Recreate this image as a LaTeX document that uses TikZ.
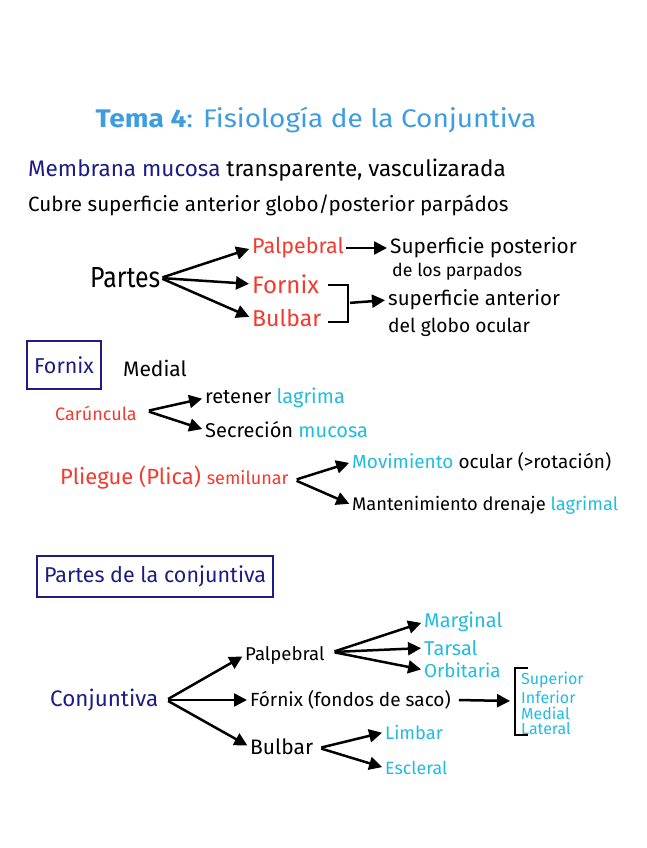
\documentclass[tikz,border=0pt]{standalone}
\usepackage{fontspec}
\setmainfont{Fira Sans}
\newfontfamily\titlefont{Fira Sans}[FakeStretch=1.1]
\newfontfamily\cfont{Fira Sans}[FakeStretch=0.86]
\usetikzlibrary{arrows.meta,calc}
\definecolor{navy}{HTML}{1C1C84}
\definecolor{hred}{HTML}{F23B2E}
\definecolor{hcyan}{HTML}{22BCE0}
\definecolor{tblue}{HTML}{3D9DE0}
\newcommand{\fs}[1]{\fontsize{#1}{#1}\selectfont}
\tikzset{
  arr/.style={line width=2.5pt,-{Triangle[length=13pt,width=13pt]},shorten >=3pt,shorten <=2pt},
  brk/.style={line width=2.5pt},
  tx/.style={inner sep=0pt,anchor=west},
  boxn/.style={draw=navy,line width=2pt,text=navy,inner sep=0pt},
}
\begin{document}
\begin{tikzpicture}[x=1pt,y=-1pt]
\useasboundingbox (0,0) rectangle (646,848);
% title
\node[inner sep=0pt,text=tblue,font=\titlefont\fs{25.5}] (title) at (316,120) {\textbf{Tema 4}: Fisiología de la Conjuntiva};
\node[tx,font=\fs{22.5}] (l1) at (28,170) {\textcolor{navy}{Membrana mucosa} transparente, vasculizarada};
\node[tx,font=\fs{20.6}] (l2) at (28,205) {Cubre superficie anterior globo/posterior parpádos};
% Partes
\node[tx,font=\cfont\fs{29}] (partes) at (90,278) {Partes};
\node[tx,font=\fs{21.5},text=hred] (pa) at (252,248) {Palpebral};
\node[tx,font=\fs{24},text=hred] (fa) at (252,284) {Fornix};
\node[tx,font=\fs{23},text=hred] (ba) at (252,318) {Bulbar};
\draw[arr] (partes.east) -- (pa.west);
\draw[arr] (partes.east) -- (fa.west);
\draw[arr] (partes.east) -- (ba.west);
\node[tx,font=\fs{20.8}] (sp1) at (390,248) {Superficie posterior};
\node[tx,font=\fs{17.8}] (sp2) at (392,272) {de los parpados};
\draw[arr] (pa.east) -- (sp1.west);
\coordinate (bt) at (328,285);
\coordinate (bb) at (328,322);
\coordinate (bm) at (348,303);
\draw[brk] (bt) -| (348,322) -- (bb);
\node[tx,font=\fs{20.5}] (sa1) at (388,300) {superficie anterior};
\node[tx,font=\fs{19.2}] (sa2) at (388,327) {del globo ocular};
\draw[arr] (bm) -- (sa1.west);
% Fornix box
\node[boxn,minimum width=74pt,minimum height=48pt,font=\fs{21.5}] (fbox) at (64,365) {Fornix};
\node[tx,font=\fs{21}] (medial) at (123,368) {Medial};
\node[tx,font=\fs{18}] at (55,413) [text=hred] (car) {Carúncula};
\node[tx,font=\fs{20}] (ret) at (205,398) {retener \textcolor{hcyan}{lagrima}};
\node[tx,font=\fs{20}] (sec) at (205,430) {Secreción \textcolor{hcyan}{mucosa}};
\draw[arr] (car.east) ++(10,-2) coordinate (cs) -- (ret.west);
\draw[arr] (cs) -- (sec.west);
\node[tx,font=\fs{22},text=hred] (pli) at (60,478) {Pliegue (Plica) {\fs{18}semilunar}};
\node[tx,font=\fs{19}] (mov) at (352,462) {\textcolor{hcyan}{Movimiento} ocular (>rotación)};
\node[tx,font=\fs{18.3}] (man) at (352,505) {Mantenimiento drenaje \textcolor{hcyan}{lagrimal}};
\draw[arr] (pli.east) ++(6,2) coordinate (ps) -- (mov.west);
\draw[arr] (ps) -- (man.west);
% Partes de la conjuntiva
\node[boxn,minimum width=236pt,minimum height=41pt,font=\fs{21.5}] (pbox) at (155,576) {Partes de la conjuntiva};
\node[tx,font=\fs{22.4},text=navy] (conj) at (50,700) {Conjuntiva};
\node[tx,font=\fs{18.6}] (pb) at (245,655) {Palpebral};
\node[tx,font=\fs{19}] (fb) at (250,700) {Fórnix (fondos de saco)};
\node[tx,font=\fs{21}] (bb2) at (250,747) {Bulbar};
\draw[arr] (conj.east) ++(8,0) coordinate (cjs) -- (pb.west);
\draw[arr] (cjs) -- (fb.west);
\draw[arr] (cjs) -- (bb2.west);
\node[tx,font=\fs{20},text=hcyan] (mar) at (424,622) {Marginal};
\node[tx,font=\fs{20},text=hcyan] (tar) at (424,648) {Tarsal};
\node[tx,font=\fs{18.8},text=hcyan] (orb) at (424,670) {Orbitaria};
\draw[arr] (pb.east) ++(8,-3) coordinate (pbs) -- (mar.west);
\draw[arr] (pbs) -- (tar.west);
\draw[arr] (pbs) -- (orb.west);
\coordinate (k) at (513,701);
\draw[arr] (fb.east) ++(6,0) -- (k);
\draw[brk] (528,668) -- (515,668) -- (515,735) -- (528,735);
\node[tx,font=\fs{16},text=hcyan] (sup) at (521,680) {Superior};
\node[tx,font=\fs{16},text=hcyan] (inf) at (521,697) {Inferior};
\node[tx,font=\fs{16},text=hcyan] (med) at (521,713) {Medial};
\node[tx,font=\fs{16},text=hcyan] (lat) at (521,729) {Lateral};
\node[tx,font=\fs{18.3},text=hcyan] (lim) at (385,732) {Limbar};
\node[tx,font=\fs{17.8},text=hcyan] (esc) at (385,768) {Escleral};
\draw[arr] (bb2.east) ++(6,1) coordinate (bbs) -- (lim.west);
\draw[arr] (bbs) -- (esc.west);
\end{tikzpicture}
\end{document}
